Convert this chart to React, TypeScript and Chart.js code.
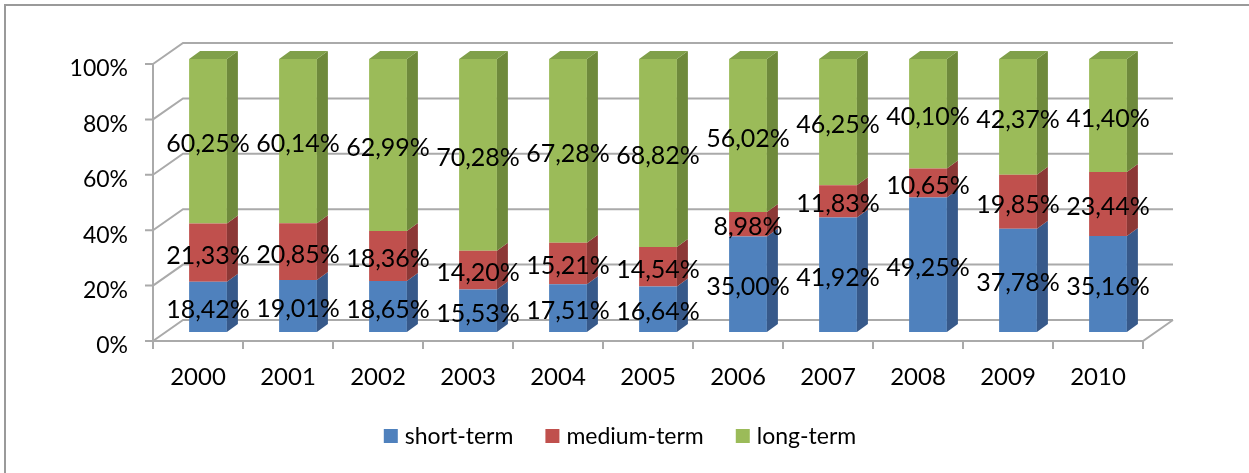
import React, { useEffect, useRef } from 'react';
import { Chart, registerables } from 'chart.js';

Chart.register(...registerables);

const categories = ['2000', '2001', '2002', '2003', '2004', '2005', '2006', '2007', '2008', '2009', '2010'];
const seriesNames = ['short-term', 'medium-term', 'long-term'];
const shortTerm = [18.42, 19.01, 18.65, 15.53, 17.51, 16.64, 35.0, 41.92, 49.25, 37.78, 35.16];
const mediumTerm = [21.33, 20.85, 18.36, 14.2, 15.21, 14.54, 8.98, 11.83, 10.65, 19.85, 23.44];
const longTerm = [60.25, 60.14, 62.99, 70.28, 67.28, 68.82, 56.02, 46.25, 40.1, 42.37, 41.4];
const yTicks = [0, 20, 40, 60, 80, 100];

const faceColors = ['#4F81BD', '#C0504D', '#9BBB59'];
const sideColors = ['#37598A', '#8C3836', '#6F8A3C'];
const topColors = ['#5E8CC4', '#B04A47', '#80A04A'];

// 3D geometry (style constants)
const DX = 30; // wall depth x
const DY = 21; // wall depth y
const BX = 10; // bar plane shift x
const BY = 9; // bar plane shift y
const SY = 273 / 277; // bar plane vertical scale
const SDX = 11; // bar depth x
const SDY = 8; // bar depth y
const FONT = 'Lato, "Open Sans", sans-serif';

const fmt = (v: number) => v.toFixed(2).replace('.', ',') + '%';

const threeD = {
  id: 'threeD',
  beforeDraw(chart: any) {
    const ctx = chart.ctx;
    const xs = chart.scales.x;
    const ys = chart.scales.y;
    const L = xs.left;
    const R = xs.right;
    const y0 = ys.getPixelForValue(0);
    const y100 = ys.getPixelForValue(100);
    ctx.save();
    ctx.strokeStyle = '#9A9A9A';
    ctx.lineWidth = 2;
    ctx.strokeRect(5, 5, chart.width + 50, chart.height + 50);

    ctx.strokeStyle = '#AAAAAA';
    ctx.lineWidth = 2;
    ctx.beginPath();
    yTicks.forEach((v) => {
      const y = ys.getPixelForValue(v);
      ctx.moveTo(L, y);
      ctx.lineTo(L + DX, y - DY);
      ctx.lineTo(R + DX, y - DY);
      ctx.moveTo(L - 8, y);
      ctx.lineTo(L, y);
    });
    ctx.moveTo(L, y0);
    ctx.lineTo(R, y0);
    ctx.lineTo(R + DX, y0 - DY);
    ctx.moveTo(L, y100);
    ctx.lineTo(L, y0);
    for (let i = 0; i <= categories.length; i++) {
      const x = xs.getPixelForValue(i - 0.5);
      ctx.moveTo(x, y0);
      ctx.lineTo(x, y0 + 8);
    }
    ctx.stroke();
    ctx.restore();
  },
  beforeDatasetsDraw(chart: any) {
    const ctx = chart.ctx;
    const y0 = chart.scales.y.getPixelForValue(0);
    ctx.save();
    ctx.translate(BX, y0 - BY);
    ctx.scale(1, SY);
    ctx.translate(0, -y0);
  },
  afterDatasetsDraw(chart: any) {
    const ctx = chart.ctx;
    ctx.restore();
    const y0 = chart.scales.y.getPixelForValue(0);
    const mapY = (y: number) => y0 - BY + SY * (y - y0);
    const n = chart.data.datasets.length;
    ctx.save();
    for (let d = 0; d < n; d++) {
      const meta = chart.getDatasetMeta(d);
      meta.data.forEach((el: any) => {
        const right = el.x + el.width / 2 + BX;
        const left = el.x - el.width / 2 + BX;
        const top = mapY(el.y);
        const bottom = mapY(el.base);
        ctx.fillStyle = sideColors[d];
        ctx.beginPath();
        ctx.moveTo(right, top);
        ctx.lineTo(right + SDX, top - SDY);
        ctx.lineTo(right + SDX, bottom - SDY);
        ctx.lineTo(right, bottom);
        ctx.closePath();
        ctx.fill();
        if (d === n - 1) {
          ctx.fillStyle = topColors[d];
          ctx.beginPath();
          ctx.moveTo(left, top);
          ctx.lineTo(left + SDX, top - SDY);
          ctx.lineTo(right + SDX, top - SDY);
          ctx.lineTo(right, top);
          ctx.closePath();
          ctx.fill();
        }
      });
    }
    ctx.fillStyle = '#000';
    ctx.font = `25px ${FONT}`;
    ctx.textAlign = 'center';
    ctx.textBaseline = 'middle';
    for (let d = 0; d < n; d++) {
      const meta = chart.getDatasetMeta(d);
      const vals = chart.data.datasets[d].data as number[];
      meta.data.forEach((el: any, i: number) => {
        const x = el.x + BX;
        const y = mapY((el.y + el.base) / 2) + 3;
        ctx.fillText(fmt(vals[i]), x, y);
      });
    }
    ctx.restore();
  },
  afterDraw(chart: any) {
    const ctx = chart.ctx;
    ctx.save();
    ctx.font = `23px ${FONT}`;
    ctx.textBaseline = 'middle';
    ctx.textAlign = 'left';
    const box = 14;
    const gapText = 7;
    const gapItem = 32;
    const widths = seriesNames.map((s) => box + gapText + ctx.measureText(s).width);
    const total = widths.reduce((a, b) => a + b, 0) + gapItem * (seriesNames.length - 1);
    let x = 620 - total / 2;
    const cy = 436;
    seriesNames.forEach((s, i) => {
      ctx.fillStyle = faceColors[i];
      ctx.fillRect(x, cy - box / 2, box, box);
      ctx.fillStyle = '#000';
      ctx.fillText(s, x + box + gapText, cy + 1);
      x += widths[i] + gapItem;
    });
    ctx.restore();
  },
};

export default function App() {
  const ref = useRef<HTMLCanvasElement | null>(null);
  useEffect(() => {
    if (!ref.current) return;
    const seriesData = [shortTerm, mediumTerm, longTerm];
    const chart = new Chart(ref.current, {
      type: 'bar',
      data: {
        labels: categories,
        datasets: seriesNames.map((name, i) => ({
          label: name,
          data: seriesData[i],
          backgroundColor: faceColors[i],
          borderWidth: 0,
          barPercentage: 0.42,
          categoryPercentage: 1,
          clip: false as any,
        })),
      },
      options: {
        animation: false,
        responsive: true,
        maintainAspectRatio: false,
        layout: { padding: { top: 64, left: 0, right: 106, bottom: 58 } },
        plugins: {
          legend: { display: false },
          tooltip: { enabled: false },
          title: { display: false },
        },
        scales: {
          x: {
            stacked: true,
            grid: { display: false, drawTicks: false },
            border: { display: false },
            ticks: { color: '#000', font: { family: FONT, size: 24 }, padding: 22 },
            afterFit: (s: any) => {
              s.height = 74;
            },
          },
          y: {
            stacked: true,
            min: 0,
            max: 100,
            grid: { display: false, drawTicks: false },
            border: { display: false },
            ticks: {
              stepSize: 20,
              color: '#000',
              font: { family: FONT, size: 23 },
              padding: 25,
              labelOffset: 5,
              callback: (v: any) => v + '%',
            },
            afterFit: (s: any) => {
              s.width = 153;
            },
          },
        },
      },
      plugins: [threeD],
    });
    return () => chart.destroy();
  }, []);
  return (
    <div style={{ position: 'absolute', left: 0, top: 0, width: 1249, height: 473 }}>
      <canvas ref={ref} />
    </div>
  );
}
